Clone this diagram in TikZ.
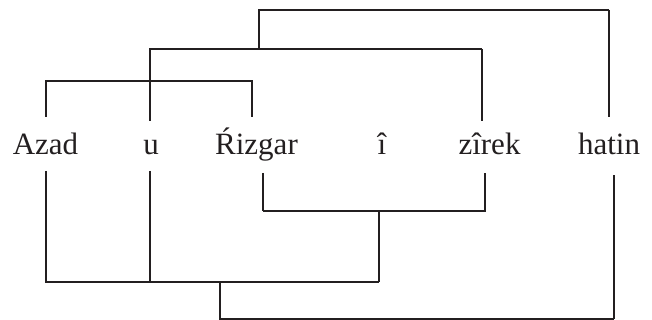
\documentclass[tikz,border=0pt]{standalone}
\usepackage{fontspec}
\setmainfont{Liberation Serif}
\definecolor{ink}{HTML}{231F20}
\begin{document}
\begin{tikzpicture}[x=1pt,y=-1pt,
  word/.style={inner sep=0pt, anchor=base, font=\fontsize{31}{31}\selectfont, text=ink},
  thk/.style={line width=2.2pt, draw=ink},
  thn/.style={line width=1.3pt, draw=ink}]
\useasboundingbox (0,0) rectangle (652,320);
% words
\node[word] (azad)   at (45.5,155) {Azad};
\node[word] (u)      at (151,155)  {u};
\node[word] (rizgar) at (256.5,155) {Ŕizgar};
\node[word] (i)      at (382,155)  {î};
\node[word] (zirek)  at (489.5,155) {zîrek};
\node[word] (hatin)  at (609,155)  {hatin};
% upper joints
\coordinate (azT)  at (46,117);
\coordinate (uT)   at (150,121);
\coordinate (rzT)  at (252,117);
\coordinate (zrT)  at (482,121);
\coordinate (htT)  at (609,117);
\coordinate (a1)   at (46,81);
\coordinate (a2)   at (252,81);
\coordinate (b1)   at (150,49);
\coordinate (b2)   at (482,49);
\coordinate (c0)   at (259,49);
\coordinate (c1)   at (259,10);
\coordinate (c2)   at (609,10);
% lower joints
\coordinate (azB)  at (46,171);
\coordinate (uB)   at (150,171);
\coordinate (rzB)  at (263,173);
\coordinate (zrB)  at (485,173);
\coordinate (htB)  at (614,175);
\coordinate (d1)   at (263,211);
\coordinate (d2)   at (485,211);
\coordinate (d0)   at (379,211);
\coordinate (e0)   at (379,282);
\coordinate (e1)   at (46,282);
\coordinate (e2)   at (150,282);
\coordinate (f0)   at (220,282);
\coordinate (f1)   at (220,319);
\coordinate (f2)   at (614,319);
% upper brackets
\draw[thk] (azT) -- (a1) -- (a2) -- (rzT);
\draw[thk] (uT) -- (b1) -- (b2);
\draw[thn] (b2) -- (zrT);
\draw[thn] (c0) -- (c1) -- (c2);
\draw[thk] (c2) -- (htT);
% lower brackets
\draw[thn] (rzB) -- (d1);
\draw[thk] (d1) -- (d2) -- (zrB);
\draw[thn] (d0) -- (e0);
\draw[thk] (azB) -- (e1) -- (e0);
\draw[thk] (uB) -- (e2);
\draw[thn] (f0) -- (f1) -- (f2);
\draw[thk] (f2) -- (htB);
\end{tikzpicture}
\end{document}
